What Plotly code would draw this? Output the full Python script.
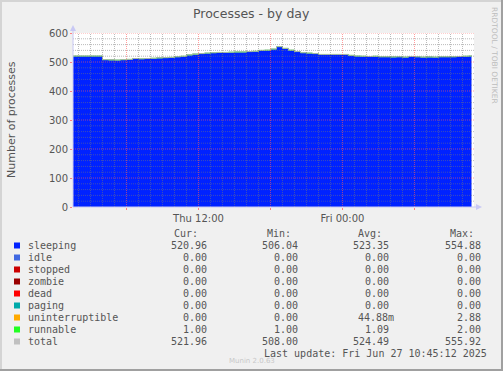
import plotly.graph_objects as go
import pandas as pd

# ---------------- data ----------------
times = list(pd.date_range("2025-06-26 01:30", "2025-06-27 10:30", freq="30min")) + [pd.Timestamp("2025-06-27 10:45")]

sleeping = [520, 520, 520, 520, 520, 507,
            506, 506, 507, 508,
            510, 510, 511, 512,
            513, 514, 515, 517,
            519, 523, 526, 528,
            530, 531, 531, 532,
            533, 534, 534, 535,
            536, 538, 540, 544,
            552, 546, 540, 535,
            531, 530, 528, 525,
            525, 525, 525,
            525, 521, 520, 519, 518, 518, 517, 517, 516, 517, 516,
            517, 517, 516, 516, 516, 517, 517, 517, 518, 519, 520, 521]
runnable = [1, 1, 1, 1, 1, 1, 2, 1, 1, 1, 2, 1, 1, 1, 2, 1, 1, 1, 1, 2,
            1, 1, 1, 1, 2, 1, 1, 1, 1, 1, 1, 2, 1, 1, 1, 1, 1, 1, 1, 1,
            1, 1, 1, 1, 1, 1, 2, 1, 1, 1, 2, 1, 1, 2, 1, 1, 2, 1, 1, 2,
            1, 1, 1, 1, 1, 1, 1, 1]
uninterruptible = [0] * 20 + [1] + [0] * 47
total = [s + r + u for s, r, u in zip(sleeping, runnable, uninterruptible)]

legend_names = ["sleeping", "idle", "stopped", "zombie", "dead", "paging",
                "uninterruptible", "runnable", "total"]
legend_colors = ["#0022ff", "#4169e1", "#cc0000", "#990000", "#ff0000",
                 "#00aaaa", "#ffaa00", "#22ff22", "#c0c0c0"]
cur_vals = ["520.96", "0.00", "0.00", "0.00", "0.00", "0.00", "0.00", "1.00", "521.96"]
min_vals = ["506.04", "0.00", "0.00", "0.00", "0.00", "0.00", "0.00", "1.00", "508.00"]
avg_vals = ["523.35", "0.00", "0.00", "0.00", "0.00", "0.00", "44.88m", "1.09", "524.49"]
max_vals = ["554.88", "0.00", "0.00", "0.00", "0.00", "0.00", "2.88", "2.00", "555.92"]

x_range = ["2025-06-26 01:32:30", "2025-06-27 10:57:30"]
y_range = [0, 600]
tick_times = ["2025-06-26 06:00", "2025-06-26 12:00", "2025-06-26 18:00",
              "2025-06-27 00:00", "2025-06-27 06:00"]
tick_text = ["", "Thu 12:00", "", "Fri 00:00", ""]

# ---------------- layout geometry ----------------
W, H = 503, 371
L, R, T, B = 73, 474, 33, 207


def px(x):
    return (x - L) / (R - L)


def py(y):
    return (B - y) / (B - T)


MONO = "DejaVu Sans Mono"
SANS = "DejaVu Sans"
TXT = "#555555"

fig = go.Figure()
fig.add_trace(go.Scatter(x=times, y=sleeping, mode="lines", line=dict(shape="hv", width=0, color="#0022ff"),
                         fillcolor="#0022ff", stackgroup="s", name="sleeping", hoverinfo="skip"))
fig.add_trace(go.Scatter(x=times, y=uninterruptible, mode="lines", line=dict(shape="hv", width=0, color="#ffaa00"),
                         fillcolor="#ffaa00", stackgroup="s", name="uninterruptible", hoverinfo="skip"))
fig.add_trace(go.Scatter(x=times, y=runnable, mode="lines", line=dict(shape="hv", width=0.6, color="#22ff22"),
                         fillcolor="#22ff22", stackgroup="s", name="runnable", hoverinfo="skip"))
fig.add_trace(go.Scatter(x=times, y=total, mode="lines", line=dict(shape="hv", width=1, color="#a8b0a8"),
                         name="total", hoverinfo="skip"))

shapes = []
minor_gray = "rgba(120,120,120,0.5)"
major_red = "rgba(255,90,90,0.6)"
for t in pd.date_range("2025-06-26 02:00", "2025-06-27 10:00", freq="1h"):
    major = t.hour % 6 == 0
    shapes.append(dict(type="line", xref="x", yref="paper", x0=t, x1=t, y0=0, y1=1, layer="above",
                       line=dict(color=major_red if major else minor_gray, width=1, dash="1px,1px")))
for v in range(20, 620, 20):
    major = v % 100 == 0
    shapes.append(dict(type="line", xref="paper", yref="y", x0=0, x1=1, y0=v, y1=v, layer="above",
                       line=dict(color=major_red if major else minor_gray, width=1, dash="1px,1px")))
axis_col = "#c8c8f4"
shapes.append(dict(type="line", xref="paper", yref="paper", x0=0, x1=px(479), y0=0, y1=0,
                   line=dict(color=axis_col, width=1), layer="above"))
shapes.append(dict(type="line", xref="paper", yref="paper", x0=0, x1=0, y0=0, y1=py(28),
                   line=dict(color=axis_col, width=1), layer="above"))
shapes.append(dict(type="path", xref="paper", yref="paper",
                   path=f"M {px(70)} {py(31)} L {px(76)} {py(31)} L {px(73)} {py(25)} Z",
                   fillcolor=axis_col, line=dict(width=0)))
shapes.append(dict(type="path", xref="paper", yref="paper",
                   path=f"M {px(476)} {py(204)} L {px(476)} {py(210)} L {px(482)} {py(207)} Z",
                   fillcolor=axis_col, line=dict(width=0)))
# frame
shapes.append(dict(type="rect", xref="paper", yref="paper", x0=px(0), x1=px(2), y0=py(371), y1=py(0),
                   fillcolor="#d4d4d4", line=dict(width=0)))
shapes.append(dict(type="rect", xref="paper", yref="paper", x0=px(0), x1=px(503), y0=py(2), y1=py(0),
                   fillcolor="#d4d4d4", line=dict(width=0)))
shapes.append(dict(type="rect", xref="paper", yref="paper", x0=px(501), x1=px(503), y0=py(371), y1=py(0),
                   fillcolor="#a0a0a0", line=dict(width=0)))
shapes.append(dict(type="rect", xref="paper", yref="paper", x0=px(0), x1=px(503), y0=py(371), y1=py(369),
                   fillcolor="#a0a0a0", line=dict(width=0)))

ann = []


def text(x, y, s, size=10, anchor="left", color=TXT, family=MONO, angle=0):
    ann.append(dict(x=px(x), y=py(y), xref="paper", yref="paper", text=s, showarrow=False,
                    xanchor=anchor, yanchor="middle", textangle=angle,
                    font=dict(family=family, size=size, color=color)))


text(251, 14, "Processes - by day", size=12.5, anchor="center", family=SANS)
text(11, 120, "Number of processes", size=11, anchor="center", family=SANS, angle=-90)
text(494, 55, "RRDTOOL / TOBI OETIKER", size=7.5, anchor="center", family=SANS, color="#bdbdbd", angle=90)

row0 = 233
text(200, row0, "Cur:", anchor="right")
text(293, row0, "Min:", anchor="right")
text(384, row0, "Avg:", anchor="right")
text(476, row0, "Max:", anchor="right")
for i, name in enumerate(legend_names):
    yy = 245.5 + 12 * i
    shapes.append(dict(type="rect", xref="paper", yref="paper", x0=px(14), x1=px(20), y0=py(yy + 3), y1=py(yy - 3),
                       fillcolor=legend_colors[i], line=dict(width=0)))
    text(26, yy, name)
    text(208.5, yy, cur_vals[i], anchor="right")
    text(300, yy, min_vals[i], anchor="right")
    avg = avg_vals[i]
    text(396 if avg.endswith("m") else 391, yy, avg, anchor="right")
    text(483, yy, max_vals[i], anchor="right")
text(489, 353, "Last update: Fri Jun 27 10:45:12 2025", anchor="right")
text(252, 361, "Munin 2.0.63", size=7, anchor="center", family=SANS, color="#c8c8c8")

fig.update_layout(
    width=W, height=H, autosize=False,
    margin=dict(l=L, r=W - R, t=T, b=H - B, pad=0),
    paper_bgcolor="#f0f0f0", plot_bgcolor="#ffffff",
    showlegend=False,
    shapes=shapes, annotations=ann,
    xaxis=dict(type="date", range=x_range, tickvals=tick_times, ticktext=tick_text,
               showgrid=False, zeroline=False, showline=False,
               ticks="outside", ticklen=2, tickcolor="#ff8080",
               tickfont=dict(family=SANS, size=10, color=TXT)),
    yaxis=dict(range=y_range, tickvals=[0, 100, 200, 300, 400, 500, 600],
               showgrid=False, zeroline=False, showline=False,
               ticks="outside", ticklen=2, tickcolor="#ff8080",
               tickfont=dict(family=SANS, size=10, color=TXT)),
)

fig.write_html("out.html", config={"displayModeBar": False},
               post_script="document.body.style.margin='0';document.body.style.overflow='hidden';")
